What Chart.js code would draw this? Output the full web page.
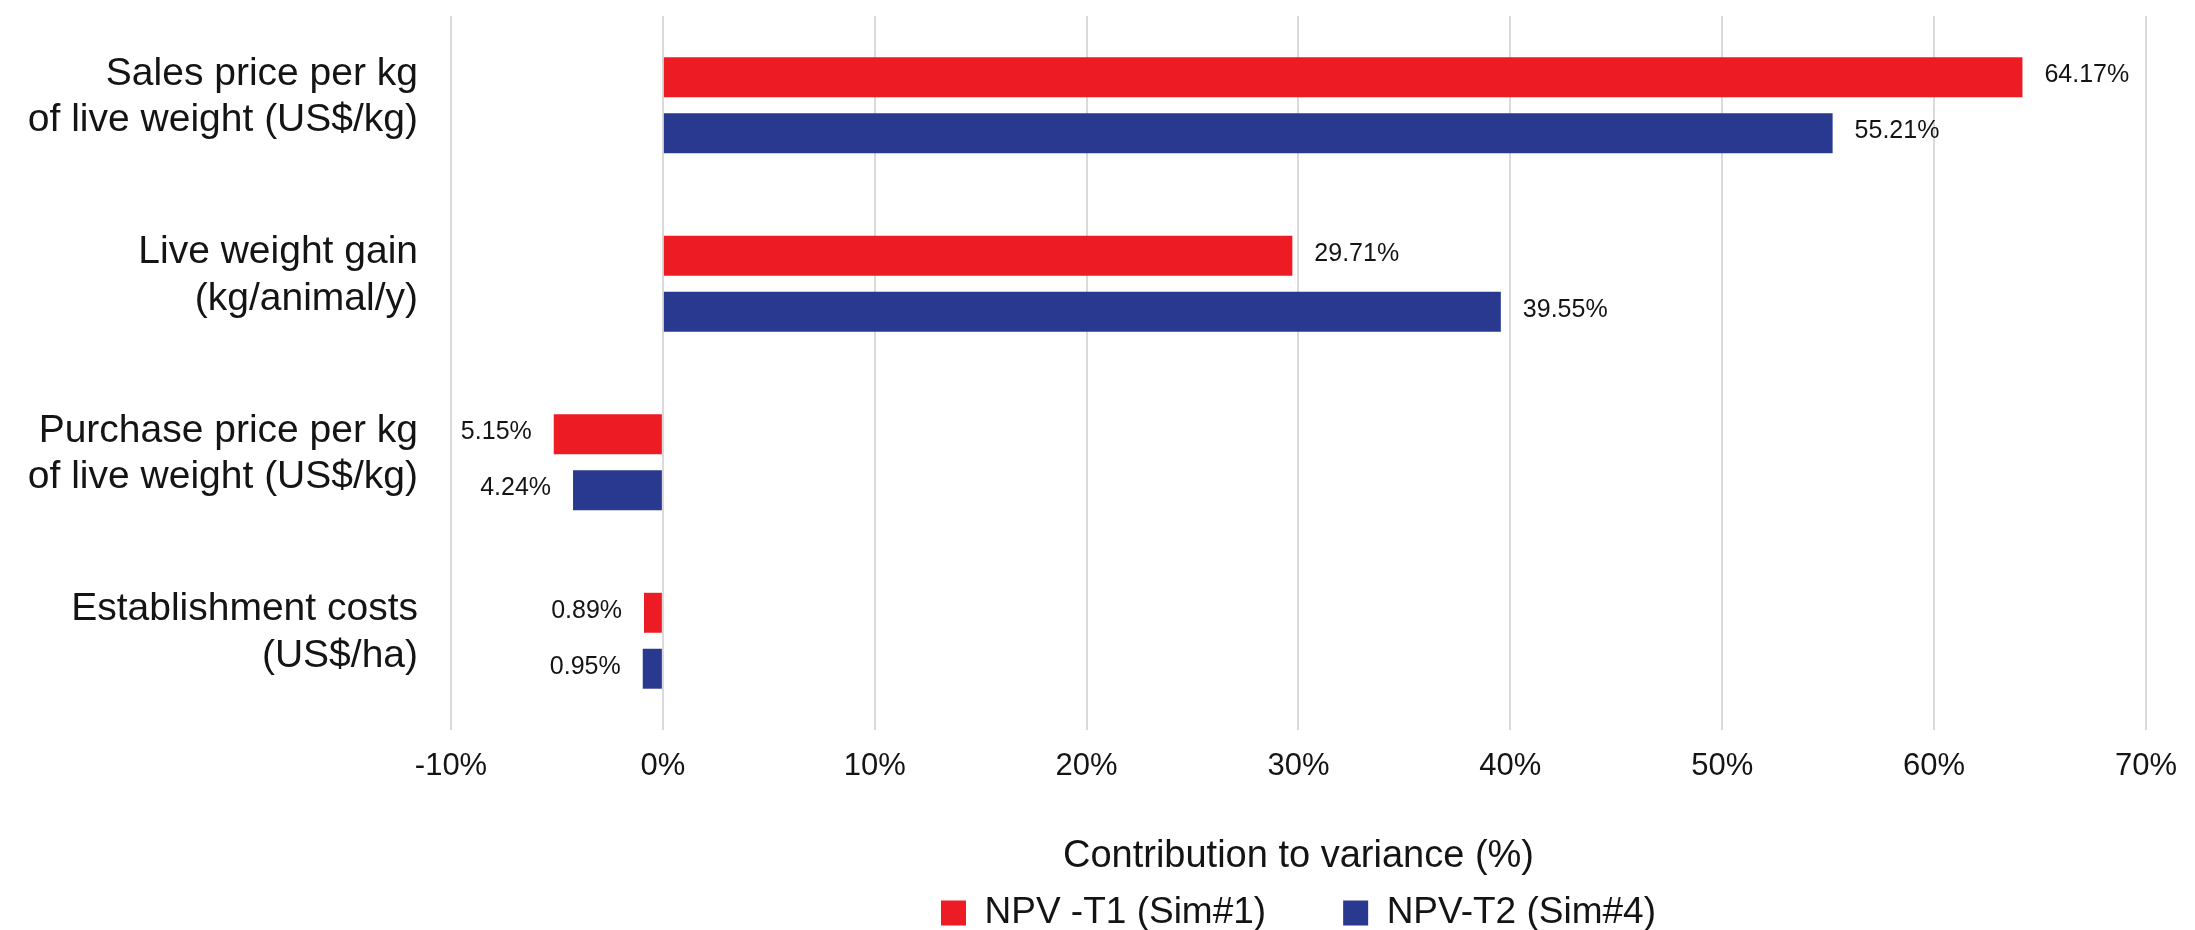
<!DOCTYPE html>
<html>
<head>
<meta charset="utf-8">
<title>Contribution to variance</title>
<script src="https://cdn.jsdelivr.net/npm/chart.js@4.4.1/dist/chart.umd.min.js"></script>
<style>
    html, body { margin: 0; padding: 0; background: #fff; }
    #wrap { width: 2195px; height: 930px; }
</style>
</head>
<body>
<div id="wrap"><canvas id="varianceChart" width="2195" height="930"></canvas></div>
<script>
const categories = [
    ['Sales price per kg', 'of live weight (US$/kg)'],
    ['Live weight gain', '(kg/animal/y)'],
    ['Purchase price per kg', 'of live weight (US$/kg)'],
    ['Establishment costs', '(US$/ha)']
];
const seriesNames = ['NPV -T1 (Sim#1)', 'NPV-T2 (Sim#4)'];
const t1Values = [64.17, 29.71, -5.15, -0.89];
const t2Values = [55.21, 39.55, -4.24, -0.95];
const xTicks = [-10, 0, 10, 20, 30, 40, 50, 60, 70];

const FONT = "'Liberation Sans', Arial, sans-serif";
const TEXT = '#141414';

// value labels at the end of each bar, outside
const barValueLabels = {
    id: 'barValueLabels',
    afterDatasetsDraw(chart) {
        const ctx = chart.ctx;
        ctx.save();
        ctx.font = '25px ' + FONT;
        ctx.fillStyle = TEXT;
        ctx.textBaseline = 'middle';
        chart.data.datasets.forEach((ds, i) => {
            chart.getDatasetMeta(i).data.forEach((bar, j) => {
                const v = ds.data[j];
                const text = Math.abs(v).toFixed(2) + '%';
                if (v >= 0) {
                    ctx.textAlign = 'left';
                    ctx.fillText(text, bar.x + 22, bar.y - 2);
                } else {
                    ctx.textAlign = 'right';
                    ctx.fillText(text, bar.x - 22, bar.y - 2);
                }
            });
        });
        ctx.restore();
    }
};

const ctx = document.getElementById('varianceChart').getContext('2d');
new Chart(ctx, {
    type: 'bar',
    data: {
        labels: categories,
        datasets: [{
            label: seriesNames[0],
            data: t1Values,
            backgroundColor: '#ED1C24',
            borderWidth: 0,
            barPercentage: 0.714,
            categoryPercentage: 0.627
        }, {
            label: seriesNames[1],
            data: t2Values,
            backgroundColor: '#2A3990',
            borderWidth: 0,
            barPercentage: 0.714,
            categoryPercentage: 0.627
        }]
    },
    options: {
        indexAxis: 'y',
        responsive: false,
        animation: false,
        layout: {
            padding: { top: 16, right: 42, bottom: -11.5, left: 0 }
        },
        plugins: {
            tooltip: { enabled: false },
            legend: {
                position: 'bottom',
                fullSize: false,
                labels: {
                    color: TEXT,
                    font: { family: FONT, size: 37 },
                    boxWidth: 25,
                    boxHeight: 25,
                    padding: 77
                }
            }
        },
        scales: {
            x: {
                min: -10,
                max: 70,
                afterBuildTicks: (scale) => {
                    scale.ticks = xTicks.map(v => ({ value: v }));
                },
                afterFit: (scale) => {
                    scale.height = 87.5;
                },
                grid: {
                    color: '#DADADA',
                    lineWidth: 2,
                    drawTicks: false
                },
                border: { display: false },
                ticks: {
                    color: TEXT,
                    font: { family: FONT, size: 31 },
                    padding: 18,
                    callback: (v) => v + '%'
                },
                title: {
                    display: true,
                    text: 'Contribution to variance (%)',
                    color: TEXT,
                    font: { family: FONT, size: 38 },
                    padding: { top: 0, bottom: -62 }
                }
            },
            y: {
                afterFit: (scale) => {
                    scale.width = 451;
                    scale.paddingTop = 0;
                    scale.paddingBottom = 0;
                },
                grid: { display: false, drawTicks: false },
                border: { display: false },
                ticks: {
                    color: TEXT,
                    font: { family: FONT, size: 39, lineHeight: 1.2 },
                    padding: 33,
                    labelOffset: -8
                }
            }
        }
    },
    plugins: [barValueLabels]
});
</script>
</body>
</html>
